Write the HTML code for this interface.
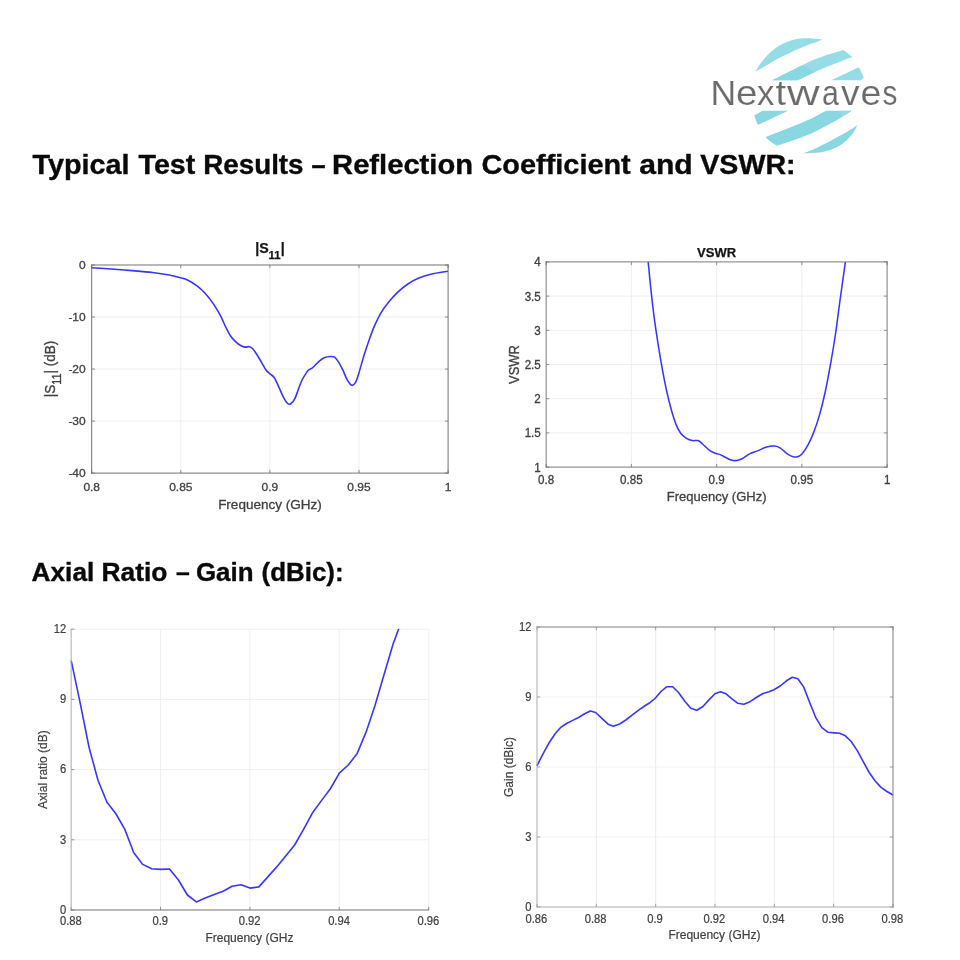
<!DOCTYPE html>
<html><head><meta charset="utf-8"><title>Nextwaves test results</title>
<style>html,body{margin:0;padding:0;background:#fff}body{width:960px;height:960px;overflow:hidden}svg{display:block;filter:blur(0.35px)}text{font-family:"Liberation Sans",sans-serif}</style>
</head><body>
<svg width="960" height="960" viewBox="0 0 960 960">
<rect width="960" height="960" fill="#fff"/>
<g id="logo">
<path fill="#95dce7" d="M755.40 71.50C756.25 70.17 758.62 66.07 760.50 63.50C762.38 60.93 764.28 58.58 766.70 56.10C769.12 53.62 772.23 50.68 775.00 48.60C777.77 46.52 780.52 44.99 783.30 43.60C786.08 42.21 788.92 41.08 791.70 40.25C794.48 39.42 797.23 38.94 800.00 38.60C802.77 38.26 805.52 38.17 808.30 38.20C811.08 38.23 814.40 38.53 816.70 38.80C819.00 39.07 821.20 39.63 822.10 39.80L822.10 39.80C821.20 40.15 819.00 41.07 816.70 41.90C814.40 42.73 811.08 43.75 808.30 44.80C805.52 45.85 802.77 47.02 800.00 48.20C797.23 49.38 794.48 50.58 791.70 51.90C788.92 53.22 786.08 54.71 783.30 56.10C780.52 57.49 777.77 58.73 775.00 60.25C772.23 61.77 769.97 63.38 766.70 65.25C763.43 67.12 757.28 70.46 755.40 71.50Z"/>
<path fill="#95dce7" d="M843.5 50.1L852.3 57C848 58.2 845 59.6 842.1 60.9L827.5 66.5L814.4 72.3L797.6 80.3L772.1 80.3L783.75 74.5L798.3 67.2L812.9 59.9L827.5 54.8Z"/>
<path fill="#88d7e1" d="M802 65.4L814.4 72.3L797.6 80.3L772.1 80.3L783.75 74.5L798.3 67.2Z"/>
<path fill="#95dce7" d="M858.9 67.2C861 71 862.6 74.5 863.7 78.1L861 80.3L831.1 80.3Z"/>
<path fill="#88d7e1" d="M754.4 115.4L762.5 110.7L788.1 110.7L758.1 124.8C756.4 121.8 755.3 119 754.4 115.4Z"/>
<path fill="#88d7e1" d="M826.25 110.7L851.9 110.7L837.5 119.75L825 126.6L812.5 132.9L800 137.9L787.5 142.25L776.9 145.75C772.5 143.3 768.5 140.5 765.6 137L781.25 131L800 123.5L812.5 117.9Z"/>
<path fill="#95dce7" d="M840.5 110.7L851.9 110.7L842.6 116.6Z"/>
<path fill="#88d7e1" d="M857.4 124.9C855.6 129 853.6 132.5 850.8 135.8C848.2 139 845.6 141.6 842.1 143.9C838.5 146.4 835 148.2 830.4 149.7C826.5 151.2 823 152 818.75 152.6C813.6 153.3 808.6 153.5 803.4 153.3L812.9 149.7L827.5 142.4L842.1 134.4C848 131.2 853 128.2 857.4 124.9Z"/>
</g>
<g role="img" aria-label="Nextwaves" fill="#6b6b6b" stroke="#fff" stroke-width="0.12" font-size="35.0">
<text transform="translate(710.48 105.3) scale(1.018 1)">N</text>
<text transform="translate(735.96 105.3) scale(1.102 1)">e</text>
<text transform="translate(757.01 105.3) scale(0.992 1)">x</text>
<text transform="translate(775.43 105.3) scale(1.085 1)">t</text>
<text transform="translate(786.97 105.3) scale(1.291 1)">w</text>
<text transform="translate(822.11 105.3) scale(0.868 1)">a</text>
<text transform="translate(840.97 105.3) scale(1.060 1)">v</text>
<text transform="translate(860.51 105.3) scale(1.072 1)">e</text>
<text transform="translate(882.57 105.3) scale(0.852 1)">s</text>
</g>
<g font-size="27" font-weight="bold" fill="#0a0a0a" stroke="#0a0a0a" stroke-width="0.35">
<text transform="translate(32.55 173.90) scale(1.0663 1)">Typical</text>
<text transform="translate(138.55 173.90) scale(1.0604 1)">Test</text>
<text transform="translate(203.19 173.90) scale(1.0298 1)">Results</text>
<text transform="translate(311.61 173.90) scale(0.9385 1)">–</text>
<text transform="translate(332.09 173.90) scale(1.0803 1)">Reflection</text>
<text transform="translate(481.48 173.90) scale(1.0703 1)">Coefficient</text>
<text transform="translate(639.13 173.90) scale(1.1156 1)">and</text>
<text transform="translate(700.25 173.90) scale(1.0598 1)">VSWR:</text>
</g>
<g font-size="25.2" font-weight="bold" fill="#0a0a0a" stroke="#0a0a0a" stroke-width="0.35">
<text transform="translate(31.51 580.90) scale(1.0431 1)">Axial</text>
<text transform="translate(101.45 580.90) scale(1.0483 1)">Ratio</text>
<text transform="translate(175.97 580.90) scale(0.9833 1)">–</text>
<text transform="translate(195.92 580.90) scale(1.0283 1)">Gain</text>
<text transform="translate(261.52 580.90) scale(1.0289 1)">(dBic):</text>
</g>
<g id="c1" style="filter:blur(0.3px)">
<clipPath id="c1clip"><rect x="90.70" y="264.00" width="358.40" height="210.10"/></clipPath>
<path d="M180.80 265.00V473.10M269.90 265.00V473.10M359.00 265.00V473.10" stroke="#eeeeee" stroke-width="1" fill="none"/>
<path d="M91.70 317.03H448.10M91.70 369.05H448.10M91.70 421.08H448.10" stroke="#eeeeee" stroke-width="1" fill="none"/>
<path d="M91.70 267.70C94.88 267.92 104.13 268.52 110.80 269.00C117.47 269.48 124.75 270.02 131.70 270.60C138.65 271.18 146.25 271.77 152.50 272.50C158.75 273.23 164.52 274.13 169.20 275.00C173.88 275.87 177.48 276.83 180.60 277.70C183.72 278.57 185.28 278.92 187.90 280.20C190.52 281.48 193.52 283.32 196.30 285.40C199.08 287.48 201.83 289.75 204.60 292.70C207.37 295.65 210.30 299.35 212.90 303.10C215.50 306.85 218.12 311.33 220.20 315.20C222.28 319.07 223.67 322.83 225.40 326.30C227.13 329.77 228.87 333.40 230.60 336.00C232.33 338.60 234.07 340.27 235.80 341.90C237.53 343.53 239.43 344.93 241.00 345.80C242.57 346.67 243.80 346.95 245.20 347.10C246.60 347.25 248.18 346.47 249.40 346.70C250.62 346.93 251.28 347.25 252.50 348.50C253.72 349.75 255.13 351.77 256.70 354.20C258.27 356.63 260.35 360.47 261.90 363.10C263.45 365.73 264.65 368.20 266.00 370.00C267.35 371.80 268.63 372.65 270.00 373.90C271.37 375.15 272.82 375.52 274.20 377.50C275.58 379.48 276.75 382.50 278.30 385.80C279.85 389.10 281.93 394.35 283.50 397.30C285.07 400.25 286.48 402.43 287.70 403.50C288.92 404.57 289.58 404.62 290.80 403.75C292.02 402.88 293.26 401.98 295.00 398.30C296.74 394.62 299.52 385.68 301.25 381.70C302.98 377.72 304.19 376.32 305.40 374.40C306.61 372.48 307.28 371.33 308.50 370.20C309.72 369.07 310.95 369.07 312.70 367.60C314.45 366.13 317.08 363.05 319.00 361.40C320.92 359.75 322.30 358.52 324.20 357.70C326.10 356.88 328.67 356.58 330.40 356.50C332.13 356.42 333.21 356.22 334.60 357.20C335.99 358.18 337.37 360.23 338.75 362.40C340.13 364.57 341.51 367.33 342.90 370.20C344.29 373.07 345.62 377.08 347.10 379.60C348.58 382.12 350.42 384.78 351.80 385.30C353.18 385.82 354.28 384.52 355.40 382.70C356.52 380.88 357.03 379.05 358.50 374.40C359.97 369.75 362.38 360.67 364.20 354.80C366.02 348.93 367.67 344.07 369.40 339.20C371.13 334.33 372.70 329.95 374.60 325.60C376.50 321.25 378.55 316.92 380.80 313.10C383.05 309.28 385.32 306.17 388.10 302.70C390.88 299.23 394.20 295.42 397.50 292.30C400.80 289.18 404.43 286.33 407.90 284.00C411.37 281.67 414.48 279.93 418.30 278.30C422.12 276.67 425.85 275.38 430.80 274.20C435.75 273.02 445.13 271.74 448.00 271.25" stroke="#3636ff" stroke-width="1.60" fill="none" stroke-linejoin="round" clip-path="url(#c1clip)"/>
<path d="M91.70 473.10v-3.20M91.70 265.00v3.20M180.80 473.10v-3.20M180.80 265.00v3.20M269.90 473.10v-3.20M269.90 265.00v3.20M359.00 473.10v-3.20M359.00 265.00v3.20M448.10 473.10v-3.20M448.10 265.00v3.20M91.70 265.00h3.20M448.10 265.00h-3.20M91.70 317.03h3.20M448.10 317.03h-3.20M91.70 369.05h3.20M448.10 369.05h-3.20M91.70 421.08h3.20M448.10 421.08h-3.20M91.70 473.10h3.20M448.10 473.10h-3.20" stroke="#808080" stroke-width="0.9" fill="none"/>
<path d="M91.70 265.00H448.10" stroke="#6a6a6a" stroke-width="0.95" fill="none" stroke-linecap="square"/>
<path d="M448.10 265.00V473.10" stroke="#6a6a6a" stroke-width="0.95" fill="none" stroke-linecap="square"/>
<path d="M91.70 265.00V473.10" stroke="#6a6a6a" stroke-width="0.95" fill="none" stroke-linecap="square"/>
<path d="M91.70 473.10H448.10" stroke="#6a6a6a" stroke-width="0.95" fill="none" stroke-linecap="square"/>
<text transform="translate(91.70 490.60) scale(1 0.940)" font-size="12.00" fill="#404040" text-anchor="middle" stroke="#404040" stroke-width="0.30">0.8</text>
<text transform="translate(180.80 490.60) scale(1 0.940)" font-size="12.00" fill="#404040" text-anchor="middle" stroke="#404040" stroke-width="0.30">0.85</text>
<text transform="translate(269.90 490.60) scale(1 0.940)" font-size="12.00" fill="#404040" text-anchor="middle" stroke="#404040" stroke-width="0.30">0.9</text>
<text transform="translate(359.00 490.60) scale(1 0.940)" font-size="12.00" fill="#404040" text-anchor="middle" stroke="#404040" stroke-width="0.30">0.95</text>
<text transform="translate(448.10 490.60) scale(1 0.940)" font-size="12.00" fill="#404040" text-anchor="middle" stroke="#404040" stroke-width="0.30">1</text>
<text transform="translate(85.70 269.28) scale(1 0.940)" font-size="12.00" fill="#404040" text-anchor="end" stroke="#404040" stroke-width="0.30">0</text>
<text transform="translate(85.70 321.31) scale(1 0.940)" font-size="12.00" fill="#404040" text-anchor="end" stroke="#404040" stroke-width="0.30">-10</text>
<text transform="translate(85.70 373.33) scale(1 0.940)" font-size="12.00" fill="#404040" text-anchor="end" stroke="#404040" stroke-width="0.30">-20</text>
<text transform="translate(85.70 425.36) scale(1 0.940)" font-size="12.00" fill="#404040" text-anchor="end" stroke="#404040" stroke-width="0.30">-30</text>
<text transform="translate(85.70 477.38) scale(1 0.940)" font-size="12.00" fill="#404040" text-anchor="end" stroke="#404040" stroke-width="0.30">-40</text>
<text x="269.90" y="508.70" font-size="13.50" fill="#404040" text-anchor="middle" stroke="#404040" stroke-width="0.30">Frequency (GHz)</text>
<text transform="translate(54.60 369.05) rotate(-90) scale(1 1.100)" font-size="13.50" fill="#404040" text-anchor="middle" stroke="#404040" stroke-width="0.30">|S<tspan font-size="80%" dy="5.9">11</tspan><tspan dy="-5.9">|</tspan> (dB)</text>
<text x="269.90" y="253.30" font-size="14.20" font-weight="bold" fill="#141414" stroke="#141414" stroke-width="0.25" text-anchor="middle">|S<tspan font-size="80%" dy="5.9">11</tspan><tspan dy="-5.9">|</tspan></text>
</g>
<g id="c2" style="filter:blur(0.3px)">
<clipPath id="c2clip"><rect x="545.15" y="260.90" width="342.95" height="207.20"/></clipPath>
<path d="M631.39 261.90V467.10M716.63 261.90V467.10M801.86 261.90V467.10" stroke="#eeeeee" stroke-width="1" fill="none"/>
<path d="M546.15 296.10H887.10M546.15 330.30H887.10M546.15 364.50H887.10M546.15 398.70H887.10M546.15 432.90H887.10" stroke="#eeeeee" stroke-width="1" fill="none"/>
<path d="M648.20 261.90C648.65 266.48 649.87 279.85 650.90 289.40C651.93 298.95 653.13 309.65 654.40 319.20C655.67 328.75 657.17 338.30 658.50 346.70C659.83 355.10 660.98 361.97 662.40 369.60C663.82 377.23 665.47 385.63 667.00 392.50C668.53 399.37 670.08 405.45 671.60 410.80C673.12 416.15 674.58 420.85 676.10 424.60C677.62 428.35 678.97 431.02 680.70 433.30C682.43 435.58 684.58 437.08 686.50 438.30C688.42 439.52 690.30 440.22 692.20 440.60C694.10 440.98 696.18 440.03 697.90 440.60C699.62 441.17 700.78 442.55 702.50 444.00C704.22 445.45 706.30 447.83 708.20 449.30C710.10 450.77 711.98 451.95 713.90 452.80C715.82 453.65 717.78 453.65 719.70 454.40C721.62 455.15 723.50 456.35 725.40 457.30C727.30 458.25 729.18 459.57 731.10 460.10C733.02 460.63 734.98 460.77 736.90 460.50C738.82 460.23 740.50 459.60 742.60 458.50C744.70 457.40 747.02 455.17 749.50 453.90C751.98 452.63 754.63 452.05 757.50 450.90C760.37 449.75 763.83 447.80 766.70 447.00C769.57 446.20 772.42 445.90 774.70 446.10C776.98 446.30 778.30 446.90 780.40 448.20C782.50 449.50 785.20 452.48 787.30 453.90C789.40 455.32 791.28 456.23 793.00 456.70C794.72 457.17 796.07 457.20 797.60 456.70C799.13 456.20 800.48 455.62 802.20 453.70C803.92 451.78 806.00 448.72 807.90 445.20C809.80 441.68 811.68 437.57 813.60 432.60C815.52 427.63 817.48 422.08 819.40 415.40C821.32 408.72 823.20 401.28 825.10 392.50C827.00 383.72 829.07 372.45 830.80 362.70C832.53 352.95 833.97 344.37 835.50 334.00C837.03 323.63 838.35 312.52 840.00 300.50C841.65 288.48 844.50 268.33 845.40 261.90" stroke="#3636ff" stroke-width="1.55" fill="none" stroke-linejoin="round" clip-path="url(#c2clip)"/>
<path d="M546.15 467.10v-3.20M546.15 261.90v3.20M631.39 467.10v-3.20M631.39 261.90v3.20M716.63 467.10v-3.20M716.63 261.90v3.20M801.86 467.10v-3.20M801.86 261.90v3.20M887.10 467.10v-3.20M887.10 261.90v3.20M546.15 261.90h3.20M887.10 261.90h-3.20M546.15 296.10h3.20M887.10 296.10h-3.20M546.15 330.30h3.20M887.10 330.30h-3.20M546.15 364.50h3.20M887.10 364.50h-3.20M546.15 398.70h3.20M887.10 398.70h-3.20M546.15 432.90h3.20M887.10 432.90h-3.20M546.15 467.10h3.20M887.10 467.10h-3.20" stroke="#888888" stroke-width="0.9" fill="none"/>
<path d="M546.15 261.90H887.10" stroke="#747474" stroke-width="0.95" fill="none" stroke-linecap="square"/>
<path d="M887.10 261.90V467.10" stroke="#747474" stroke-width="0.95" fill="none" stroke-linecap="square"/>
<path d="M546.15 261.90V467.10" stroke="#747474" stroke-width="0.95" fill="none" stroke-linecap="square"/>
<path d="M546.15 467.10H887.10" stroke="#747474" stroke-width="0.95" fill="none" stroke-linecap="square"/>
<text transform="translate(546.15 484.20) scale(1 1.050)" font-size="11.60" fill="#404040" text-anchor="middle" stroke="#404040" stroke-width="0.30">0.8</text>
<text transform="translate(631.39 484.20) scale(1 1.050)" font-size="11.60" fill="#404040" text-anchor="middle" stroke="#404040" stroke-width="0.30">0.85</text>
<text transform="translate(716.63 484.20) scale(1 1.050)" font-size="11.60" fill="#404040" text-anchor="middle" stroke="#404040" stroke-width="0.30">0.9</text>
<text transform="translate(801.86 484.20) scale(1 1.050)" font-size="11.60" fill="#404040" text-anchor="middle" stroke="#404040" stroke-width="0.30">0.95</text>
<text transform="translate(887.10 484.20) scale(1 1.050)" font-size="11.60" fill="#404040" text-anchor="middle" stroke="#404040" stroke-width="0.30">1</text>
<text transform="translate(540.75 266.39) scale(1 1.050)" font-size="11.60" fill="#404040" text-anchor="end" stroke="#404040" stroke-width="0.30">4</text>
<text transform="translate(540.75 300.59) scale(1 1.050)" font-size="11.60" fill="#404040" text-anchor="end" stroke="#404040" stroke-width="0.30">3.5</text>
<text transform="translate(540.75 334.79) scale(1 1.050)" font-size="11.60" fill="#404040" text-anchor="end" stroke="#404040" stroke-width="0.30">3</text>
<text transform="translate(540.75 368.99) scale(1 1.050)" font-size="11.60" fill="#404040" text-anchor="end" stroke="#404040" stroke-width="0.30">2.5</text>
<text transform="translate(540.75 403.19) scale(1 1.050)" font-size="11.60" fill="#404040" text-anchor="end" stroke="#404040" stroke-width="0.30">2</text>
<text transform="translate(540.75 437.39) scale(1 1.050)" font-size="11.60" fill="#404040" text-anchor="end" stroke="#404040" stroke-width="0.30">1.5</text>
<text transform="translate(540.75 471.59) scale(1 1.050)" font-size="11.60" fill="#404040" text-anchor="end" stroke="#404040" stroke-width="0.30">1</text>
<text x="716.62" y="501.20" font-size="13.00" fill="#404040" text-anchor="middle" stroke="#404040" stroke-width="0.30">Frequency (GHz)</text>
<text transform="translate(518.60 364.50) rotate(-90) scale(1 1.120)" font-size="13.00" fill="#404040" text-anchor="middle" stroke="#404040" stroke-width="0.30">VSWR</text>
<text x="716.62" y="256.90" font-size="13.00" font-weight="bold" fill="#141414" stroke="#141414" stroke-width="0.25" text-anchor="middle">VSWR</text>
</g>
<g id="c3" style="filter:blur(0.3px)">
<clipPath id="c3clip"><rect x="70.15" y="628.20" width="359.55" height="282.80"/></clipPath>
<path d="M160.54 629.20V910.00M249.92 629.20V910.00M339.31 629.20V910.00M428.70 629.20V910.00" stroke="#f0f0f0" stroke-width="1" fill="none"/>
<path d="M71.15 629.20H428.70M71.15 699.40H428.70M71.15 769.60H428.70M71.15 839.80H428.70" stroke="#f0f0f0" stroke-width="1" fill="none"/>
<path d="M71.20 660.60L80.14 702.80L89.08 747.50L98.01 780.30L106.95 802.20L115.89 813.75L124.83 829.40L133.76 852.80L142.70 864.40L151.64 868.75L160.57 869.40L169.51 869.00L178.45 880.00L187.39 895.00L196.32 901.90L205.26 898.10L214.20 894.40L223.14 891.25L232.07 886.25L241.01 884.70L249.95 888.10L258.89 886.90L267.82 876.90L276.76 866.90L285.70 855.90L294.64 845.00L303.57 829.40L312.51 812.80L321.45 800.60L330.39 788.75L339.32 773.10L348.26 765.00L357.20 753.40L366.14 731.90L375.07 705.30L384.01 674.70L392.95 644.40L398.75 628.75" stroke="#3636ff" stroke-width="1.60" fill="none" stroke-linejoin="round" clip-path="url(#c3clip)"/>
<path d="M71.15 910.00v-3.20M160.54 910.00v-3.20M249.92 910.00v-3.20M339.31 910.00v-3.20M428.70 910.00v-3.20M71.15 629.20h3.20M71.15 699.40h3.20M71.15 769.60h3.20M71.15 839.80h3.20M71.15 910.00h3.20" stroke="#8a8a8a" stroke-width="0.9" fill="none"/>
<path d="M71.15 629.20V910.00" stroke="#a4a4a4" stroke-width="0.95" fill="none" stroke-linecap="square"/>
<path d="M71.15 910.00H428.70" stroke="#6c6c6c" stroke-width="0.95" fill="none" stroke-linecap="square"/>
<text transform="translate(70.85 924.80) scale(1 1.070)" font-size="11.20" fill="#404040" text-anchor="middle" stroke="#404040" stroke-width="0.20">0.88</text>
<text transform="translate(160.24 924.80) scale(1 1.070)" font-size="11.20" fill="#404040" text-anchor="middle" stroke="#404040" stroke-width="0.20">0.9</text>
<text transform="translate(249.62 924.80) scale(1 1.070)" font-size="11.20" fill="#404040" text-anchor="middle" stroke="#404040" stroke-width="0.20">0.92</text>
<text transform="translate(339.01 924.80) scale(1 1.070)" font-size="11.20" fill="#404040" text-anchor="middle" stroke="#404040" stroke-width="0.20">0.94</text>
<text transform="translate(428.40 924.80) scale(1 1.070)" font-size="11.20" fill="#404040" text-anchor="middle" stroke="#404040" stroke-width="0.20">0.96</text>
<text transform="translate(66.25 632.92) scale(1 1.070)" font-size="11.20" fill="#404040" text-anchor="end" stroke="#404040" stroke-width="0.20">12</text>
<text transform="translate(66.25 703.12) scale(1 1.070)" font-size="11.20" fill="#404040" text-anchor="end" stroke="#404040" stroke-width="0.20">9</text>
<text transform="translate(66.25 773.32) scale(1 1.070)" font-size="11.20" fill="#404040" text-anchor="end" stroke="#404040" stroke-width="0.20">6</text>
<text transform="translate(66.25 843.52) scale(1 1.070)" font-size="11.20" fill="#404040" text-anchor="end" stroke="#404040" stroke-width="0.20">3</text>
<text transform="translate(66.25 913.72) scale(1 1.070)" font-size="11.20" fill="#404040" text-anchor="end" stroke="#404040" stroke-width="0.20">0</text>
<text x="249.43" y="941.90" font-size="12.00" fill="#404040" text-anchor="middle" stroke="#404040" stroke-width="0.20">Frequency (GHz</text>
<text transform="translate(47.00 769.60) rotate(-90) scale(1 1.000)" font-size="12.00" fill="#404040" text-anchor="middle" stroke="#404040" stroke-width="0.20">Axial ratio (dB)</text>
</g>
<g id="c4" style="filter:blur(0.3px)">
<clipPath id="c4clip"><rect x="536.00" y="626.00" width="358.00" height="282.00"/></clipPath>
<path d="M596.33 627.00V907.00M655.67 627.00V907.00M715.00 627.00V907.00M774.33 627.00V907.00M833.67 627.00V907.00" stroke="#ebebeb" stroke-width="1" fill="none"/>
<path d="M537.00 697.00H893.00M537.00 767.00H893.00M537.00 837.00H893.00" stroke="#f2f2f2" stroke-width="1" fill="none"/>
<path d="M536.90 765.80L542.50 754.80L548.75 743.30L555.00 734.00L560.80 727.30L566.50 723.50L572.70 720.40L579.00 717.30L584.60 713.75L590.40 711.00L595.60 712.50L601.90 718.30L608.10 724.20L613.30 726.25L619.60 724.00L625.80 720.00L632.10 715.20L638.30 710.40L644.20 706.25L649.80 702.70L655.00 698.50L661.25 691.25L666.90 686.70L672.70 686.70L678.30 692.30L685.20 701.70L690.80 708.30L696.70 710.20L702.90 706.50L709.20 699.60L715.00 693.75L720.50 691.70L726.00 693.80L732.30 699.20L737.90 703.30L743.75 704.20L750.00 701.70L756.25 697.50L762.50 693.75L768.75 691.70L774.00 689.80L780.20 686.00L786.50 680.80L792.30 677.30L797.90 678.75L803.75 687.10L809.40 701.70L815.60 717.30L821.90 727.70L828.10 732.30L834.40 732.90L839.60 733.30L844.80 735.40L851.00 741.25L857.30 750.60L863.50 762.10L869.20 772.50L875.00 780.80L880.80 787.10L886.50 791.25L893.00 795.00" stroke="#3636ff" stroke-width="1.60" fill="none" stroke-linejoin="round" clip-path="url(#c4clip)"/>
<path d="M537.00 907.00v-3.20M537.00 627.00v3.20M596.33 907.00v-3.20M596.33 627.00v3.20M655.67 907.00v-3.20M655.67 627.00v3.20M715.00 907.00v-3.20M715.00 627.00v3.20M774.33 907.00v-3.20M774.33 627.00v3.20M833.67 907.00v-3.20M833.67 627.00v3.20M893.00 907.00v-3.20M893.00 627.00v3.20M537.00 627.00h3.20M893.00 627.00h-3.20M537.00 697.00h3.20M893.00 697.00h-3.20M537.00 767.00h3.20M893.00 767.00h-3.20M537.00 837.00h3.20M893.00 837.00h-3.20M537.00 907.00h3.20M893.00 907.00h-3.20" stroke="#9a9a9a" stroke-width="0.9" fill="none"/>
<path d="M537.00 627.00H893.00" stroke="#787878" stroke-width="0.95" fill="none" stroke-linecap="square"/>
<path d="M893.00 627.00V907.00" stroke="#787878" stroke-width="0.95" fill="none" stroke-linecap="square"/>
<path d="M537.00 627.00V907.00" stroke="#a6a6a6" stroke-width="0.95" fill="none" stroke-linecap="square"/>
<path d="M537.00 907.00H893.00" stroke="#a6a6a6" stroke-width="0.95" fill="none" stroke-linecap="square"/>
<text transform="translate(536.30 922.70) scale(1 1.070)" font-size="11.20" fill="#404040" text-anchor="middle" stroke="#404040" stroke-width="0.20">0.86</text>
<text transform="translate(595.63 922.70) scale(1 1.070)" font-size="11.20" fill="#404040" text-anchor="middle" stroke="#404040" stroke-width="0.20">0.88</text>
<text transform="translate(654.97 922.70) scale(1 1.070)" font-size="11.20" fill="#404040" text-anchor="middle" stroke="#404040" stroke-width="0.20">0.9</text>
<text transform="translate(714.30 922.70) scale(1 1.070)" font-size="11.20" fill="#404040" text-anchor="middle" stroke="#404040" stroke-width="0.20">0.92</text>
<text transform="translate(773.63 922.70) scale(1 1.070)" font-size="11.20" fill="#404040" text-anchor="middle" stroke="#404040" stroke-width="0.20">0.94</text>
<text transform="translate(832.97 922.70) scale(1 1.070)" font-size="11.20" fill="#404040" text-anchor="middle" stroke="#404040" stroke-width="0.20">0.96</text>
<text transform="translate(892.30 922.70) scale(1 1.070)" font-size="11.20" fill="#404040" text-anchor="middle" stroke="#404040" stroke-width="0.20">0.98</text>
<text transform="translate(531.40 630.92) scale(1 1.070)" font-size="11.20" fill="#404040" text-anchor="end" stroke="#404040" stroke-width="0.20">12</text>
<text transform="translate(531.40 700.92) scale(1 1.070)" font-size="11.20" fill="#404040" text-anchor="end" stroke="#404040" stroke-width="0.20">9</text>
<text transform="translate(531.40 770.92) scale(1 1.070)" font-size="11.20" fill="#404040" text-anchor="end" stroke="#404040" stroke-width="0.20">6</text>
<text transform="translate(531.40 840.92) scale(1 1.070)" font-size="11.20" fill="#404040" text-anchor="end" stroke="#404040" stroke-width="0.20">3</text>
<text transform="translate(531.40 910.92) scale(1 1.070)" font-size="11.20" fill="#404040" text-anchor="end" stroke="#404040" stroke-width="0.20">0</text>
<text x="714.40" y="938.90" font-size="12.00" fill="#404040" text-anchor="middle" stroke="#404040" stroke-width="0.20">Frequency (GHz)</text>
<text transform="translate(513.00 767.00) rotate(-90) scale(1 1.000)" font-size="12.00" fill="#404040" text-anchor="middle" stroke="#404040" stroke-width="0.20">Gain (dBic)</text>
</g>
</svg>
</body></html>
